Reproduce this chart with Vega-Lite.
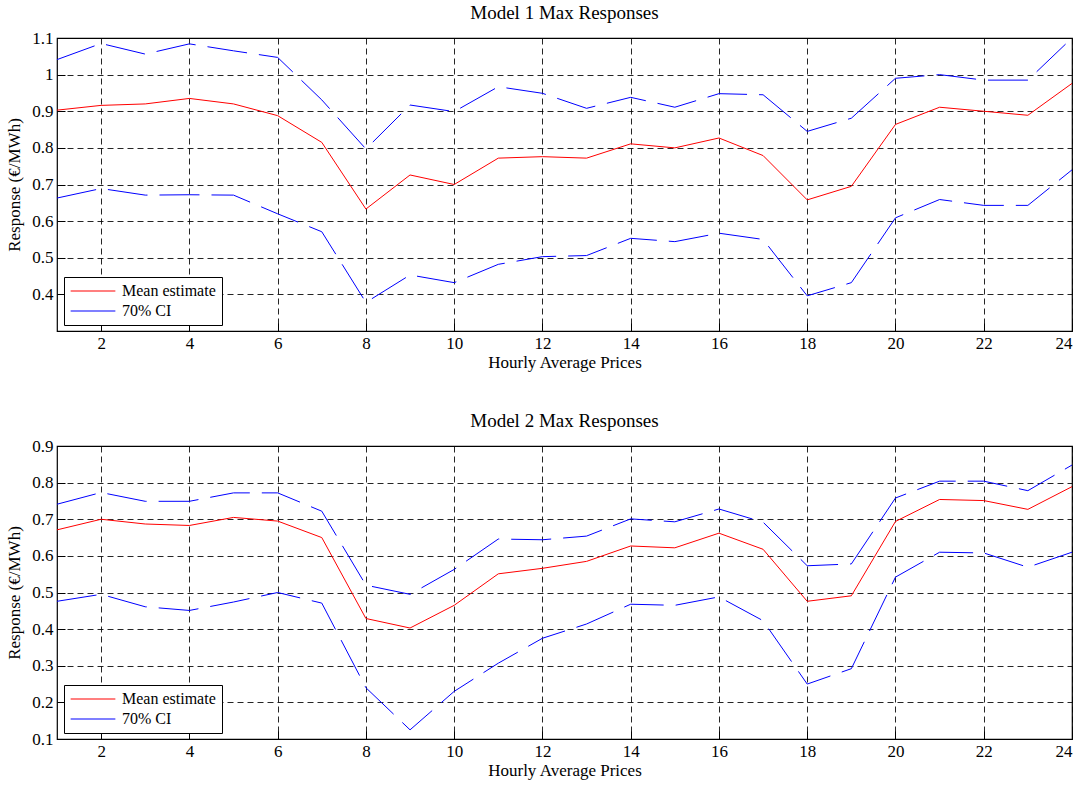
{
  "$schema": "https://vega.github.io/schema/vega-lite/v6.json",
  "background": "white",
  "padding": {"left": 5, "right": 14, "top": 3, "bottom": 4},
  "config": {
    "font": "Liberation Serif",
    "view": {"stroke": "#000", "strokeWidth": 1.2},
    "axis": {
      "labelFont": "Liberation Serif", "titleFont": "Liberation Serif",
      "labelFontSize": 17, "titleFontSize": 17, "titleFontWeight": "normal",
      "labelColor": "#000", "titleColor": "#000", "labelOverlap": false,
      "domain": false, "ticks": true, "tickSize": -8, "tickColor": "#000", "tickWidth": 1,
      "grid": true, "gridColor": "#000", "gridDash": [6, 4], "gridOpacity": 0.85, "gridWidth": 1
    },
    "title": {"font": "Liberation Serif", "fontSize": 19, "fontWeight": "normal", "color": "#000"},
    "legend": {
      "labelFont": "Liberation Serif", "labelFontSize": 16, "labelColor": "#000",
      "strokeColor": "#000", "fillColor": "#fff", "padding": 6,
      "symbolType": "stroke", "symbolSize": 2000, "symbolStrokeWidth": 1.2,
      "clipHeight": 16, "rowPadding": 4, "labelOffset": 6
    }
  },
  "datasets": {
    "d": [
      {"m":1,"h":1,"mean":0.903,"lo":0.663,"hi":1.041},
      {"m":1,"h":2,"mean":0.916,"lo":0.689,"hi":1.085},
      {"m":1,"h":3,"mean":0.920,"lo":0.671,"hi":1.056},
      {"m":1,"h":4,"mean":0.935,"lo":0.672,"hi":1.084},
      {"m":1,"h":5,"mean":0.920,"lo":0.671,"hi":1.065},
      {"m":1,"h":6,"mean":0.888,"lo":0.620,"hi":1.047},
      {"m":1,"h":7,"mean":0.815,"lo":0.571,"hi":0.931},
      {"m":1,"h":8,"mean":0.633,"lo":0.378,"hi":0.797},
      {"m":1,"h":9,"mean":0.726,"lo":0.453,"hi":0.917},
      {"m":1,"h":10,"mean":0.700,"lo":0.432,"hi":0.899},
      {"m":1,"h":11,"mean":0.772,"lo":0.482,"hi":0.967},
      {"m":1,"h":12,"mean":0.776,"lo":0.503,"hi":0.949},
      {"m":1,"h":13,"mean":0.772,"lo":0.506,"hi":0.908},
      {"m":1,"h":14,"mean":0.811,"lo":0.553,"hi":0.938},
      {"m":1,"h":15,"mean":0.800,"lo":0.544,"hi":0.911},
      {"m":1,"h":16,"mean":0.827,"lo":0.567,"hi":0.948},
      {"m":1,"h":17,"mean":0.779,"lo":0.550,"hi":0.945},
      {"m":1,"h":18,"mean":0.658,"lo":0.396,"hi":0.845},
      {"m":1,"h":19,"mean":0.695,"lo":0.432,"hi":0.881},
      {"m":1,"h":20,"mean":0.864,"lo":0.609,"hi":0.990},
      {"m":1,"h":21,"mean":0.911,"lo":0.659,"hi":1.000},
      {"m":1,"h":22,"mean":0.900,"lo":0.643,"hi":0.985},
      {"m":1,"h":23,"mean":0.889,"lo":0.643,"hi":0.985},
      {"m":1,"h":24,"mean":0.976,"lo":0.740,"hi":1.100},
      {"m":2,"h":1,"mean":0.671,"lo":0.476,"hi":0.741},
      {"m":2,"h":2,"mean":0.700,"lo":0.495,"hi":0.773},
      {"m":2,"h":3,"mean":0.687,"lo":0.461,"hi":0.749},
      {"m":2,"h":4,"mean":0.683,"lo":0.451,"hi":0.749},
      {"m":2,"h":5,"mean":0.705,"lo":0.474,"hi":0.772},
      {"m":2,"h":6,"mean":0.695,"lo":0.500,"hi":0.772},
      {"m":2,"h":7,"mean":0.650,"lo":0.471,"hi":0.722},
      {"m":2,"h":8,"mean":0.429,"lo":0.240,"hi":0.520},
      {"m":2,"h":9,"mean":0.403,"lo":0.125,"hi":0.495},
      {"m":2,"h":10,"mean":0.465,"lo":0.230,"hi":0.563},
      {"m":2,"h":11,"mean":0.551,"lo":0.307,"hi":0.646},
      {"m":2,"h":12,"mean":0.566,"lo":0.375,"hi":0.644},
      {"m":2,"h":13,"mean":0.585,"lo":0.414,"hi":0.654},
      {"m":2,"h":14,"mean":0.627,"lo":0.468,"hi":0.701},
      {"m":2,"h":15,"mean":0.622,"lo":0.465,"hi":0.693},
      {"m":2,"h":16,"mean":0.662,"lo":0.488,"hi":0.728},
      {"m":2,"h":17,"mean":0.618,"lo":0.423,"hi":0.692},
      {"m":2,"h":18,"mean":0.476,"lo":0.250,"hi":0.573},
      {"m":2,"h":19,"mean":0.491,"lo":0.292,"hi":0.578},
      {"m":2,"h":20,"mean":0.694,"lo":0.542,"hi":0.758},
      {"m":2,"h":21,"mean":0.754,"lo":0.610,"hi":0.804},
      {"m":2,"h":22,"mean":0.751,"lo":0.608,"hi":0.804},
      {"m":2,"h":23,"mean":0.727,"lo":0.569,"hi":0.778},
      {"m":2,"h":24,"mean":0.789,"lo":0.610,"hi":0.848}
    ]
  },
  "vconcat": [
    {
      "title": {"text": "Model 1 Max Responses", "offset": 6},
      "width": 1015, "height": 293,
      "data": {"name": "d"},
      "transform": [{"filter": "datum.m == 1"}],
      "encoding": {
        "x": {"field": "h", "type": "quantitative", "title": "Hourly Average Prices",
              "scale": {"domain": [1, 24], "nice": false},
              "axis": {"values": [2,4,6,8,10,12,14,16,18,20,22,24], "format": "d", "labelPadding": 12, "titlePadding": 3}},
        "color": {"scale": {"domain": ["Mean estimate", "70% CI"], "range": ["#ff0000", "#0000ff"]},
                  "legend": {"title": null, "orient": "none", "legendX": 7, "legendY": 239}}
      },
      "layer": [
        {"mark": {"type": "line", "strokeWidth": 1, "clip": true},
         "encoding": {"y": {"field": "mean", "type": "quantitative", "title": "Response (€/MWh)",
                            "scale": {"domain": [0.3, 1.1], "nice": false, "zero": false},
                            "axis": {"values": [0.4,0.5,0.6,0.7,0.8,0.9,1.0,1.1], "format": ".1~f", "labelPadding": 12, "titlePadding": 8}},
                      "color": {"datum": "Mean estimate"}}},
        {"mark": {"type": "line", "strokeWidth": 1, "strokeDash": [40, 12], "clip": true},
         "encoding": {"y": {"field": "hi", "type": "quantitative", "title": "Response (€/MWh)",
                            "axis": {"values": [0.4,0.5,0.6,0.7,0.8,0.9,1.0,1.1], "format": ".1~f", "labelPadding": 12, "titlePadding": 8}},
                      "color": {"datum": "70% CI"}}},
        {"mark": {"type": "line", "strokeWidth": 1, "strokeDash": [40, 12], "clip": true},
         "encoding": {"y": {"field": "lo", "type": "quantitative", "title": "Response (€/MWh)",
                            "axis": {"values": [0.4,0.5,0.6,0.7,0.8,0.9,1.0,1.1], "format": ".1~f", "labelPadding": 12, "titlePadding": 8}},
                      "color": {"datum": "70% CI"}}}
      ]
    },
    {
      "title": {"text": "Model 2 Max Responses", "offset": 6},
      "width": 1015, "height": 293,
      "data": {"name": "d"},
      "transform": [{"filter": "datum.m == 2"}],
      "encoding": {
        "x": {"field": "h", "type": "quantitative", "title": "Hourly Average Prices",
              "scale": {"domain": [1, 24], "nice": false},
              "axis": {"values": [2,4,6,8,10,12,14,16,18,20,22,24], "format": "d", "labelPadding": 12, "titlePadding": 3}},
        "color": {"scale": {"domain": ["Mean estimate", "70% CI"], "range": ["#ff0000", "#0000ff"]},
                  "legend": {"title": null, "orient": "none", "legendX": 7, "legendY": 239}}
      },
      "layer": [
        {"mark": {"type": "line", "strokeWidth": 1, "clip": true},
         "encoding": {"y": {"field": "mean", "type": "quantitative", "title": "Response (€/MWh)",
                            "scale": {"domain": [0.1, 0.9], "nice": false, "zero": false},
                            "axis": {"values": [0.1,0.2,0.3,0.4,0.5,0.6,0.7,0.8,0.9], "format": ".1~f", "labelPadding": 12, "titlePadding": 8}},
                      "color": {"datum": "Mean estimate"}}},
        {"mark": {"type": "line", "strokeWidth": 1, "strokeDash": [40, 12], "clip": true},
         "encoding": {"y": {"field": "hi", "type": "quantitative", "title": "Response (€/MWh)",
                            "axis": {"values": [0.1,0.2,0.3,0.4,0.5,0.6,0.7,0.8,0.9], "format": ".1~f", "labelPadding": 12, "titlePadding": 8}},
                      "color": {"datum": "70% CI"}}},
        {"mark": {"type": "line", "strokeWidth": 1, "strokeDash": [40, 12], "clip": true},
         "encoding": {"y": {"field": "lo", "type": "quantitative", "title": "Response (€/MWh)",
                            "axis": {"values": [0.1,0.2,0.3,0.4,0.5,0.6,0.7,0.8,0.9], "format": ".1~f", "labelPadding": 12, "titlePadding": 8}},
                      "color": {"datum": "70% CI"}}}
      ]
    }
  ],
  "spacing": 40,
  "resolve": {"scale": {"color": "independent", "y": "independent"}, "legend": {"color": "independent"}}
}
